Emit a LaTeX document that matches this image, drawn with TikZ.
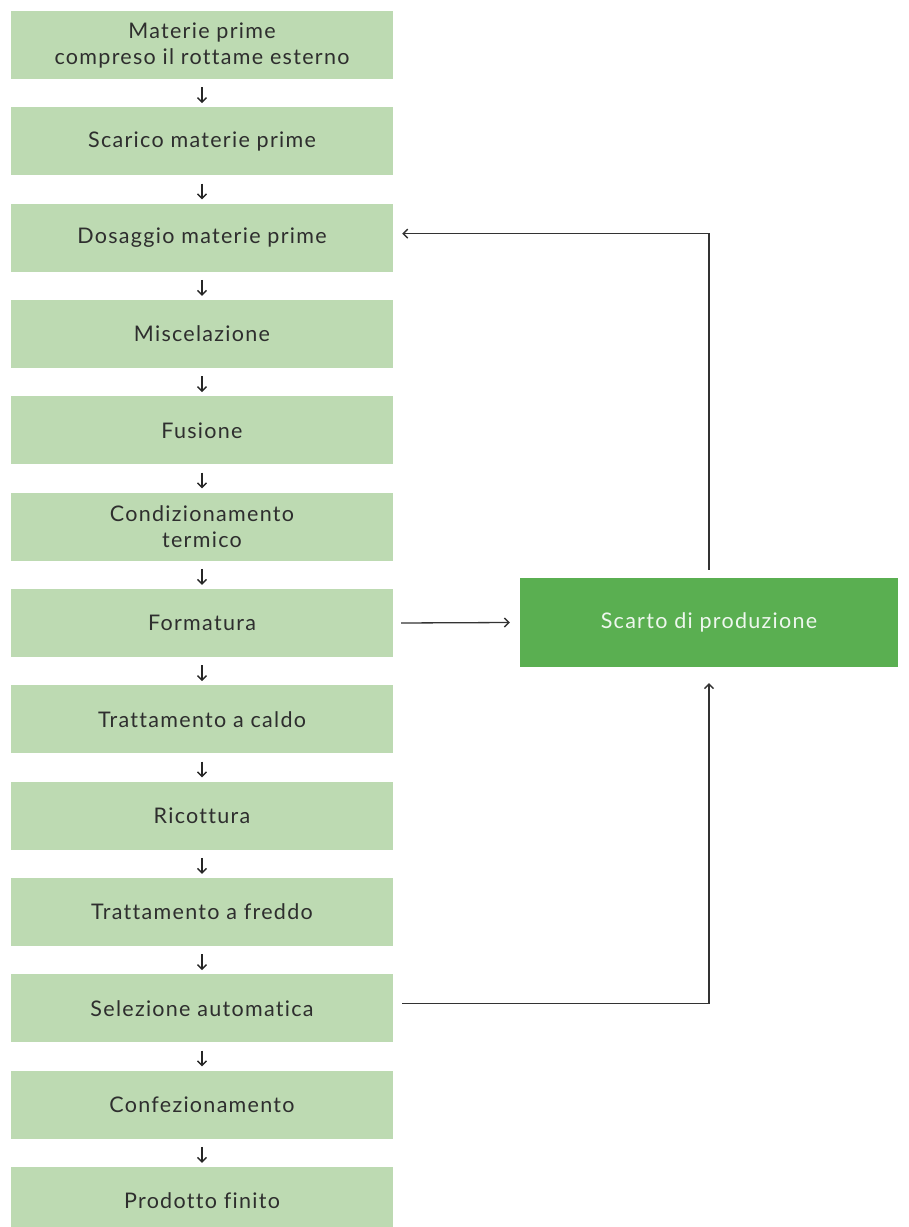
\documentclass[tikz,border=0pt]{standalone}
\usepackage{fontspec}
\setmainfont{Lato}[LetterSpace=6,Ligatures=CommonOff]
\usetikzlibrary{arrows.meta}
\definecolor{lightg}{HTML}{BDDAB2}
\definecolor{darkg}{HTML}{5AAF51}
\definecolor{txt}{HTML}{2E2E2E}
\tikzset{
  stepbox/.style={fill=lightg, draw=none, minimum width=382pt, minimum height=68pt, inner sep=0pt, align=center, text=txt, font=\fontsize{21.5}{26}\selectfont},
  scartobox/.style={fill=darkg, draw=none, minimum width=378pt, minimum height=89pt, inner sep=0pt, align=center, text=white!90!darkg, font=\fontsize{21.5}{26}\selectfont},
  arr/.style={draw=black!85, line width=1.3pt, -{Straight Barb[length=4.5pt,width=9pt,line width=1.4pt]}},
  conn/.style={draw=black!80, line width=1.3pt, -{Straight Barb[length=4.5pt,width=9pt,line width=1.4pt]}}
}
\begin{document}
\begin{tikzpicture}[x=1pt,y=-1pt]
\useasboundingbox (0,0) rectangle (909,1227);
\begin{scope}
\clip (0,0) rectangle (909,1227);
\foreach \i/\t in {1/{Materie prime\\compreso il rottame esterno},2/{Scarico materie prime},3/{Dosaggio materie prime},4/{Miscelazione},5/{Fusione},6/{Condizionamento\\termico},7/{Formatura},8/{Trattamento a caldo},9/{Ricottura},10/{Trattamento a freddo},11/{Selezione automatica},12/{Confezionamento},13/{Prodotto finito}}{
  \node[stepbox] (b\i) at (202, {11+(\i-1)*96.33+34}) {\t};
}
\end{scope}
\node[scartobox] (scarto) at (709,622.5) {Scarto di produzione};
\foreach \i [evaluate=\i as \j using int(\i+1)] in {1,...,12}{
  \draw[arr] ([yshift=-8pt]b\i.south) -- ([yshift=4pt]b\j.north);
}
\draw[conn] ([xshift=8pt]b7.east) -- ([xshift=-10pt]scarto.west);
\draw[conn] ([yshift=8pt]scarto.north) |- ([xshift=9pt,yshift=4pt]b3.east);
\draw[conn] ([xshift=9pt,yshift=5pt]b11.east) -| ([yshift=-16pt]scarto.south);
\end{tikzpicture}
\end{document}
